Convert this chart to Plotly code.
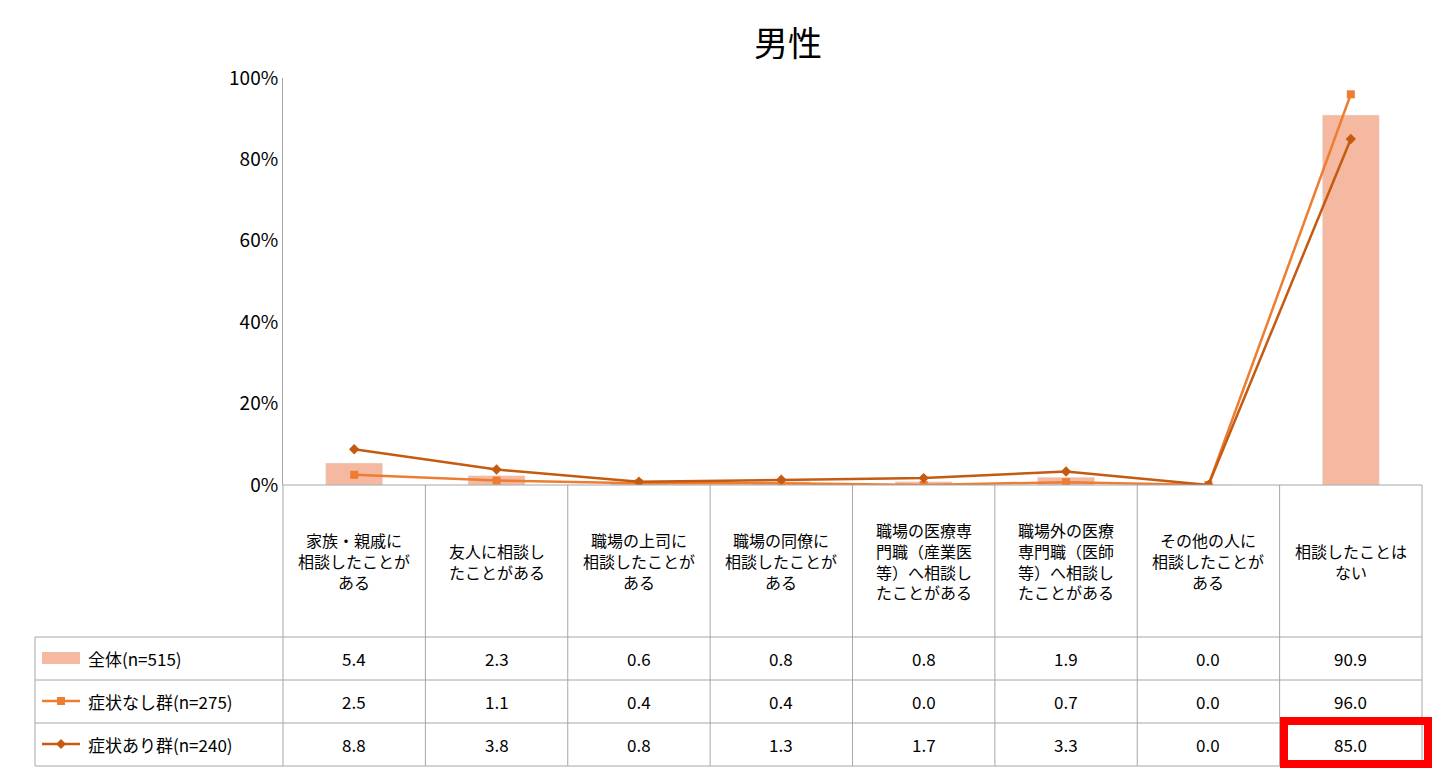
import plotly.graph_objects as go

categories = ["家族・親戚に<br>相談したことが<br>ある", "友人に相談し<br>たことがある", "職場の上司に<br>相談したことが<br>ある",
              "職場の同僚に<br>相談したことが<br>ある", "職場の医療専<br>門職（産業医<br>等）へ相談し<br>たことがある",
              "職場外の医療<br>専門職（医師<br>等）へ相談し<br>たことがある", "その他の人に<br>相談したことが<br>ある", "相談したことは<br>ない"]
series_names = ["全体(n=515)", "症状なし群(n=275)", "症状あり群(n=240)"]
total = [5.4, 2.3, 0.6, 0.8, 0.8, 1.9, 0.0, 90.9]
no_sym = [2.5, 1.1, 0.4, 0.4, 0.0, 0.7, 0.0, 96.0]
with_sym = [8.8, 3.8, 0.8, 1.3, 1.7, 3.3, 0.0, 85.0]

OFF = 8  # page body margin
W, H = 1445 - OFF, 777 - OFF
L, R, T, B = 283, 1422, 78, 485
def px(x): return (x - L) / (R - L)
def py(y): return (B - y) / (B - T)

BAR_C, NO_C, YES_C = "#F4B9A0", "#ED7D31", "#C55A11"
FONT = "Noto Sans CJK JP"
x = list(range(8))
fig = go.Figure()
fig.add_bar(x=x, y=total, marker_color=BAR_C, width=0.4, showlegend=False)
fig.add_scatter(x=x, y=no_sym, mode="lines+markers", line=dict(color=NO_C, width=2.5),
                marker=dict(symbol="square", size=8, color=NO_C), showlegend=False)
fig.add_scatter(x=x, y=with_sym, mode="lines+markers", line=dict(color=YES_C, width=2.5),
                marker=dict(symbol="diamond", size=8, color=YES_C), showlegend=False)

shapes, ann = [], []
gc = "#A6A6A6"
def ln(x0, y0, x1, y1, c=gc, w=1):
    shapes.append(dict(type="line", xref="paper", yref="paper", x0=px(x0), y0=py(y0), x1=px(x1), y1=py(y1),
                       line=dict(color=c, width=w)))
def txt(xx, yy, t, size=17, xa="center"):
    ann.append(dict(x=px(xx), y=py(yy), xref="paper", yref="paper", text=t, showarrow=False,
                    xanchor=xa, yanchor="middle", align="center",
                    font=dict(size=size, family=FONT, color="#000")))
colw = (R - L) / 8
rows = [485, 637, 680, 723, 766]
for i in range(9):
    ln(L + i * colw, 485, L + i * colw, 766)
ln(35, 637, 35, 766)
for yy in rows[1:]:
    ln(35, yy, R, yy)
ln(L, 485, R, 485)
for i, c in enumerate(categories):
    txt(L + (i + .5) * colw, 561, c, 16)
for r, vals in enumerate([total, no_sym, with_sym]):
    yc = (rows[r + 1] + rows[r + 2]) / 2
    for i, v in enumerate(vals):
        txt(L + (i + .5) * colw, yc, f"{v:.1f}")
    txt(86, yc, series_names[r], 17, "left")
shapes.append(dict(type="rect", xref="paper", yref="paper", x0=px(42), x1=px(80), y0=py(652), y1=py(664),
                   fillcolor=BAR_C, line=dict(width=0)))
for yc, c in [(701, NO_C), (744, YES_C)]:
    ln(42, yc, 80, yc, c, 2.5)
sq = f"M {px(57)} {py(697)} L {px(65)} {py(697)} L {px(65)} {py(705)} L {px(57)} {py(705)} Z"
shapes.append(dict(type="path", xref="paper", yref="paper", path=sq, fillcolor=NO_C, line=dict(width=0)))
dm = f"M {px(61)} {py(739)} L {px(66)} {py(744)} L {px(61)} {py(749)} L {px(56)} {py(744)} Z"
shapes.append(dict(type="path", xref="paper", yref="paper", path=dm, fillcolor=YES_C, line=dict(width=0)))
shapes.append(dict(type="rect", xref="paper", yref="paper", x0=px(1284), x1=px(1428), y0=py(721), y1=py(764),
                   line=dict(color="#FF0000", width=8)))
txt(788, 42, "男性", 34)

fig.update_layout(width=W, height=H, margin=dict(l=L - OFF, r=W - (R - OFF), t=T - OFF, b=H - (B - OFF)),
                  plot_bgcolor="white", paper_bgcolor="white", shapes=shapes, annotations=ann,
                  font=dict(family=FONT, size=17, color="#000"))
fig.update_xaxes(range=[-0.5, 7.5], showticklabels=False, showgrid=False, zeroline=False)
fig.update_yaxes(range=[0, 100], dtick=20, ticksuffix="%", showgrid=False, zeroline=False,
                 showline=True, linecolor=gc, ticks="", tickfont=dict(size=19))
fig.write_html("out.html")
